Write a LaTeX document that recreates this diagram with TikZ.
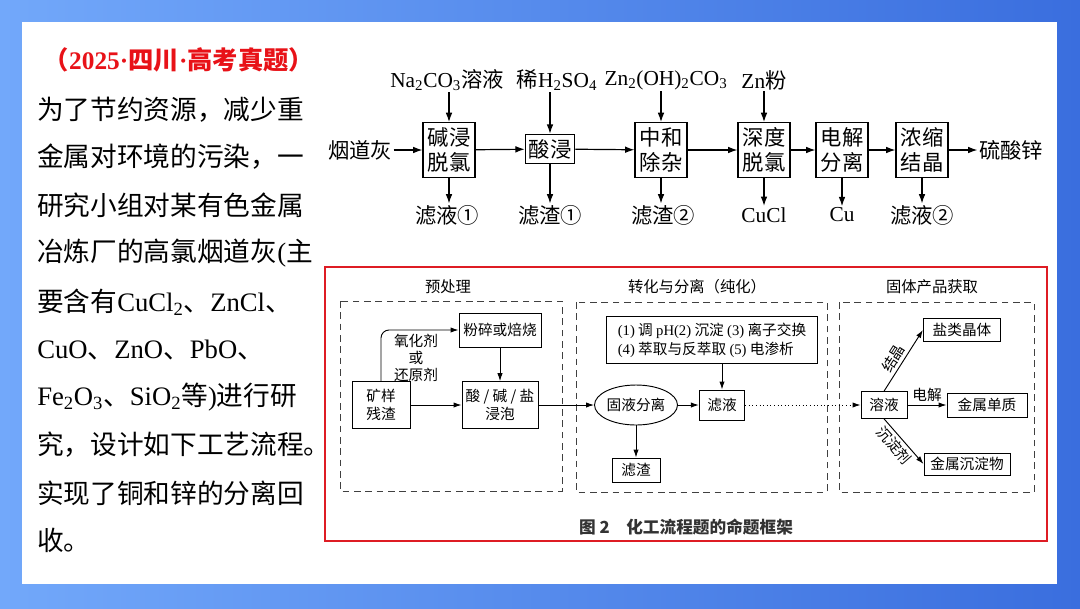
\documentclass[tikz,border=0pt]{standalone}
\usepackage{fontspec}
\setmainfont{Noto Sans CJK SC}
\newfontfamily\tm{Liberation Serif}
\usetikzlibrary{arrows.meta,shapes.geometric}

\definecolor{bgleft}{RGB}{114,168,250}
\definecolor{bgright}{RGB}{58,110,222}
\definecolor{titlered}{RGB}{232,18,24}
\definecolor{framered}{RGB}{222,28,36}

\begin{document}
\begin{tikzpicture}[
        x=0.75pt, y=-0.75pt,
        stage/.style={rectangle, draw, line width=0.9pt, minimum width=39pt, minimum height=41pt, inner sep=1pt, align=center, font=\fontsize{16}{19}\selectfont},
        chem/.style={inner sep=1pt, font=\fontsize{16}{19}\selectfont},
        arrow/.style={-{Latex[length=7pt,width=5pt]}, line width=0.9pt},
        box/.style={rectangle, draw, line width=0.7pt, align=center, inner sep=1pt, font=\fontsize{11}{14}\selectfont},
        small/.style={inner sep=1pt, align=center, font=\fontsize{11}{13}\selectfont},
        sarrow/.style={-{Latex[length=6pt,width=4pt]}, line width=0.7pt},
        group/.style={draw=black!75, line width=0.7pt, dash pattern=on 5pt off 3.5pt},
        para/.style={anchor=west, inner sep=0pt, font=\fontsize{20}{24}\selectfont}
    ]
        \useasboundingbox (0,0) rectangle (1080,608);

        % Background
        \shade[left color=bgleft, middle color=bgleft!88!bgright, right color=bgright] (0,0) rectangle (1080,608);
        \fill[white] (22,22) rectangle (1057,584);

        % Question text
        \node[inner sep=0pt, text=titlered, font=\fontsize{19}{23}\selectfont\bfseries] (title) at (179,60) {（{\tm 2025·}四川{\tm ·}高考真题）};
        \node[para] (l1) at (37,110) {为了节约资源，减少重};
        \node[para] (l2) at (37,157) {金属对环境的污染，一};
        \node[para] (l3) at (37,205) {研究小组对某有色金属};
        \node[para] (l4) at (37,253) {冶炼厂的高氯烟道灰{\tm (}主};
        \node[para] (l5) at (37,302) {要含有{\tm CuCl\textsubscript{2}}、{\tm ZnCl}、};
        \node[para] (l6) at (37,350) {{\tm CuO}、{\tm ZnO}、{\tm PbO}、};
        \node[para] (l7) at (37,397) {{\tm Fe\textsubscript{2}O\textsubscript{3}}、{\tm SiO\textsubscript{2}}等{\tm )}进行研};
        \node[para] (l8) at (37,445) {究，设计如下工艺流程。};
        \node[para] (l9) at (37,493) {实现了铜和锌的分离回};
        \node[para] (l10) at (37,540) {收。};

        % Process line
        \node[chem] (feed) at (360,150) {烟道灰};
        \node[stage] (s1) at (449,150) {碱浸\\脱氯};
        \node[stage, minimum width=37pt, minimum height=22pt] (s2) at (550,149) {酸浸};
        \node[stage] (s3) at (661,150) {中和\\除杂};
        \node[stage] (s4) at (764,150) {深度\\脱氯};
        \node[stage] (s5) at (842,150) {电解\\分离};
        \node[stage] (s6) at (922,150) {浓缩\\结晶};
        \node[chem] (prod) at (1011,150) {硫酸锌};

        % Reagents
        \node[chem] (r1) at (447,80) {{\tm Na\textsubscript{2}CO\textsubscript{3}}溶液};
        \node[chem] (r2) at (557,80) {稀{\tm H\textsubscript{2}SO\textsubscript{4}}};
        \node[chem] (r3) at (666,80) {{\tm Zn\textsubscript{2}(OH)\textsubscript{2}CO\textsubscript{3}}};
        \node[chem] (r4) at (764,80) {{\tm Zn}粉};

        % By-products
        \node[chem] (o1) at (447,215) {滤液①};
        \node[chem] (o2) at (550,215) {滤渣①};
        \node[chem] (o3) at (663,215) {滤渣②};
        \node[chem] (o4) at (764,215) {{\tm CuCl}};
        \node[chem] (o5) at (842,215) {{\tm Cu}};
        \node[chem] (o6) at (922,215) {滤液②};

        \draw[arrow] (feed) -- (s1);
        \draw[arrow] (s1) -- (s2);
        \draw[arrow] (s2) -- (s3);
        \draw[arrow] (s3) -- (s4);
        \draw[arrow] (s4) -- (s5);
        \draw[arrow] (s5) -- (s6);
        \draw[arrow] (s6) -- (prod);
        \draw[arrow] (s1 |- r1.south) -- (s1.north);
        \draw[arrow] (s2 |- r2.south) -- (s2.north);
        \draw[arrow] (s3 |- r3.south) -- (s3.north);
        \draw[arrow] (s4 |- r4.south) -- (s4.north);
        \draw[arrow] (s1.south) -- (s1.south |- o1.north);
        \draw[arrow] (s2.south) -- (s2.south |- o2.north);
        \draw[arrow] (s3.south) -- (s3.south |- o3.north);
        \draw[arrow] (s4.south) -- (s4.south |- o4.north);
        \draw[arrow] (s5.south) -- (s5.south |- o5.north);
        \draw[arrow] (s6.south) -- (s6.south |- o6.north);

        % Figure 2 frame
        \draw[framered, line width=2.2pt] (325,267) rectangle (1047,541);
        \draw[group] (340,301) rectangle (562,491);
        \draw[group] (576,302) rectangle (827,492);
        \draw[group] (839,302) rectangle (1034,492);
        \node[small, font=\fontsize{11.5}{13}\selectfont] (g1) at (448,287) {预处理};
        \node[small, font=\fontsize{11.5}{13}\selectfont] (g2) at (697,287) {转化与分离（纯化）};
        \node[small, font=\fontsize{11.5}{13}\selectfont] (g3) at (932,287) {固体产品获取};

        % Pretreatment
        \node[box, minimum width=43.5pt, minimum height=35pt] (ore) at (381,405) {矿样\\残渣};
        \node[box, minimum width=61.5pt, minimum height=25.5pt] (crush) at (500,330) {粉碎或焙烧};
        \node[box, minimum width=57pt, minimum height=35pt] (leach) at (500,405) {酸 / 碱 / 盐\\浸泡};
        \node[small] (redox) at (416,358) {氧化剂\\或\\还原剂};
        \draw[sarrow, rounded corners=6pt] (ore.north) |- (crush.west);
        \draw[sarrow] (crush) -- (leach);
        \draw[sarrow] (ore) -- (leach);

        % Separation
        \node[draw, ellipse, line width=0.7pt, minimum width=61pt, minimum height=30pt, inner sep=0pt, font=\fontsize{11}{13}\selectfont] (sep) at (636,405) {固液分离};
        \node[box, minimum width=34pt, minimum height=22.5pt] (filt) at (722,405) {滤液};
        \node[box, minimum width=36pt, minimum height=18pt] (resid) at (636,470) {滤渣};
        \node[box, align=left, minimum width=158pt, minimum height=35pt, inner sep=3pt] (methods) at (712,340) {{\tm (1)} 调 {\tm pH(2)} 沉淀 {\tm (3)} 离子交换\\{\tm (4)} 萃取与反萃取 {\tm (5)} 电渗析};
        \draw[sarrow] (leach) -- (sep);
        \draw[sarrow] (sep) -- (filt);
        \draw[sarrow] (sep) -- (resid);
        \draw[sarrow] (filt |- methods.south) -- (filt.north);

        % Products
        \node[box, minimum width=34.5pt, minimum height=20pt] (sol) at (884,405) {溶液};
        \node[box, minimum width=58pt, minimum height=17pt] (salt) at (962,330) {盐类晶体};
        \node[box, minimum width=60pt, minimum height=18pt] (metal) at (987,405) {金属单质};
        \node[box, minimum width=64.5pt, minimum height=16.5pt] (precip) at (967,464) {金属沉淀物};
        \draw[sarrow, dotted] (filt) -- (sol);
        \draw[sarrow] (sol.north) -- node[small, sloped, above=1pt, pos=0.45] {结晶} (salt.west);
        \draw[sarrow] (sol) -- node[small, above=1pt] {电解} (metal);
        \draw[sarrow] (sol.south) -- node[small, sloped, below=1pt, pos=0.45] {沉淀剂} (precip.west);

        % Caption
        \node[inner sep=0pt, text=black!80, font=\fontsize{12.5}{14}\selectfont\bfseries] (cap) at (686,527) {图 2\quad 化工流程题的命题框架};
    \end{tikzpicture}
\end{document}
